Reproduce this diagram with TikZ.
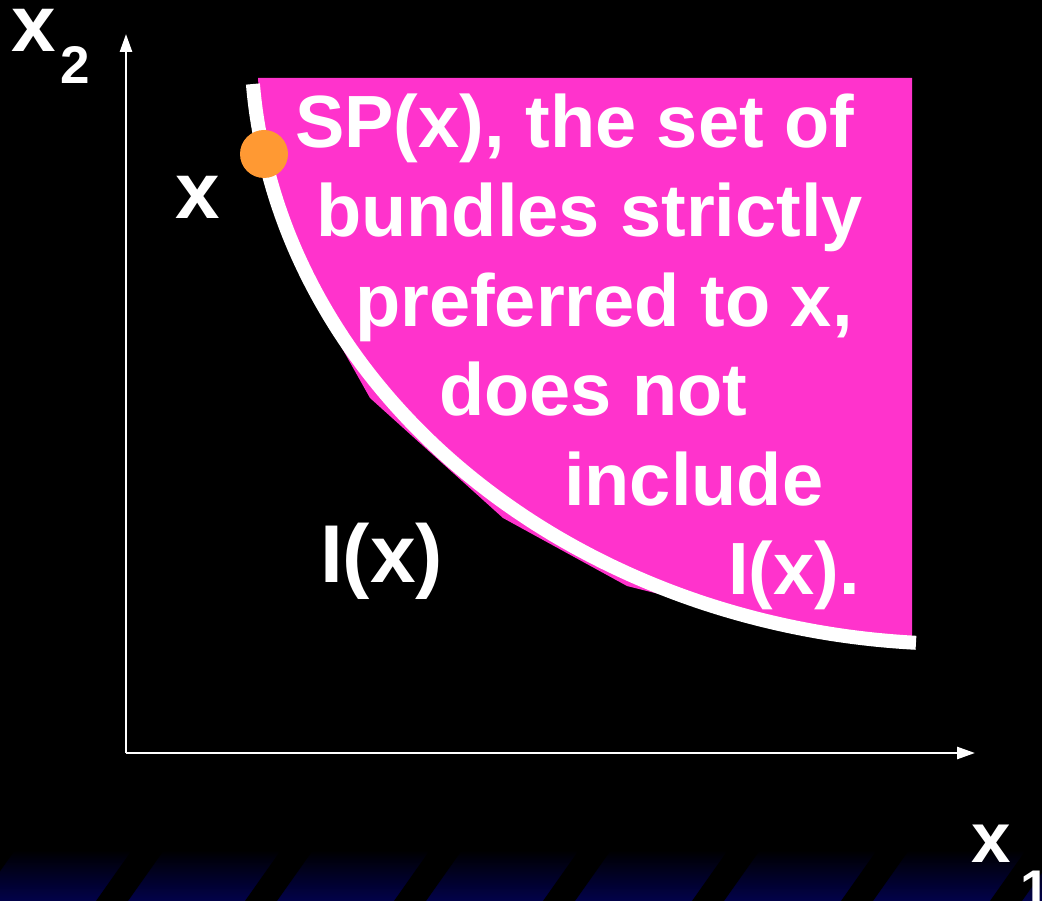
\documentclass[tikz,border=0pt]{standalone}
\usepackage{fontspec}
\setmainfont{Liberation Sans}
\usetikzlibrary{arrows.meta}
\definecolor{pinkfill}{RGB}{255,51,204}
\definecolor{dotorange}{RGB}{255,153,51}
\definecolor{navyband}{RGB}{2,2,74}
\begin{document}
\begin{tikzpicture}[x=1pt,y=-1pt,
  txt/.style={text=white,inner sep=0pt,anchor=base west,font=\bfseries\fontsize{74}{90}\selectfont},
  big/.style={text=white,inner sep=0pt,anchor=base west,font=\bfseries\fontsize{80}{90}\selectfont},
  sub/.style={text=white,inner sep=0pt,anchor=base west,font=\bfseries\fontsize{53}{60}\selectfont},
  axisline/.style={white,line width=2.6pt,-{Triangle[length=18pt,width=12pt]}},
  curveline/.style={white,line width=14pt}]
\fill[black] (0,0) rectangle (1042,901);
\useasboundingbox (0,0) rectangle (1042,901);
% bottom striped band
\shade[top color=black,bottom color=navyband] (0,850) rectangle (1042,901);
\foreach \a in {-170,-21,128,277,426,575,724,873,1022}
  \fill[black] (\a+117,901) -- (\a+149,901) -- (\a+185,850) -- (\a+153,850) -- cycle;
% pink region
\fill[pinkfill] (258,78) -- (912,78) -- (912,641) -- (830,634) -- (747,616)
  -- (627,586) -- (503,518) -- (370,398) -- (297,268) -- (280,210) -- (263,150) -- cycle;
% indifference curve (quarter ellipse)
\draw[curveline] plot[domain=4.18:86.44,samples=90,smooth] ({960-709*cos(\x)},{40+604*sin(\x)});
% axes
\coordinate (O) at (126,753);
\coordinate (Ytip) at (126,34);
\coordinate (Xtip) at (975,753);
\draw[axisline] (O) -- (Ytip);
\draw[axisline] (O) -- (Xtip);
% point x
\node[circle,fill=dotorange,minimum size=48pt,inner sep=0pt] (dot) at (264,154) {};
% labels
\node[big] (x2) at (11,52) {x};
\node[sub] (x2s) at (60,84) {2};
\node[big,font=\bfseries\fontsize{71}{80}\selectfont] (x1) at (971,862) {x};
\node[sub] (x1s) at (1020,907) {1};
\node[big] (xl) at (175,219) {x};
\node[big,font=\bfseries\fontsize{82}{90}\selectfont] (ixl) at (320,582) {I(x)};
\node[txt] (t1) at (295,148) {SP(x), the set of};
\node[txt] (t2) at (316,237) {bundles strictly};
\node[txt] (t3) at (355,327) {preferred to x,};
\node[txt] (t4) at (439,415) {does not};
\node[txt] (t5) at (564,505) {include};
\node[txt] (t6) at (728,594) {I(x).};
\end{tikzpicture}
\end{document}
